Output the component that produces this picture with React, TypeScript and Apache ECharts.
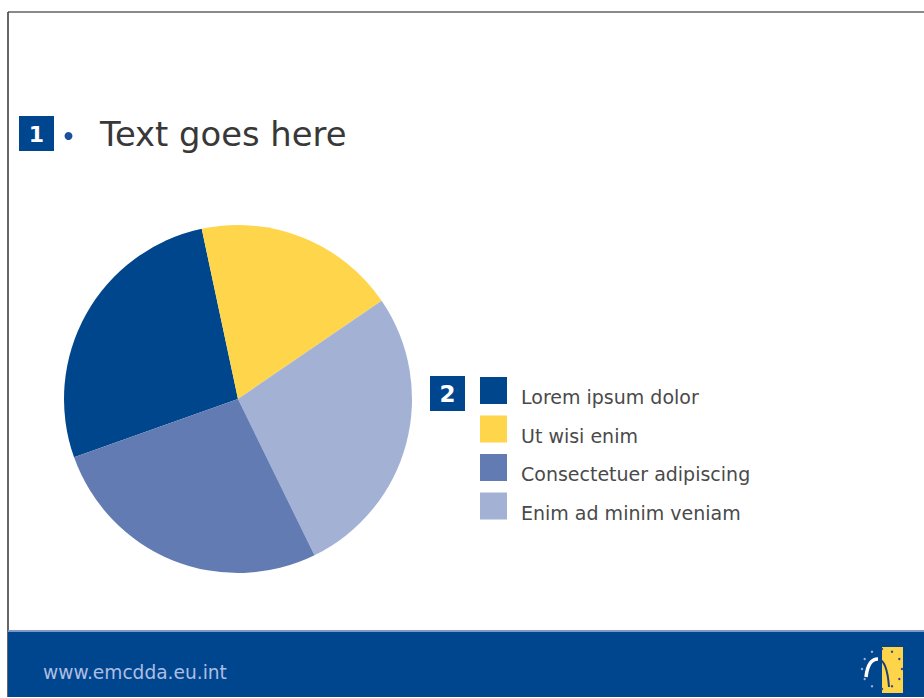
import React, { useEffect, useRef } from "react";
import * as echarts from "echarts";

// Pie slices in clockwise drawing order
const sliceNames = ["Lorem ipsum dolor", "Ut wisi enim", "Enim ad minim veniam", "Consectetuer adipiscing"];
const sliceValues = [27.1, 18.8, 27.3, 26.8];
const sliceColors = ["#00468C", "#FED54B", "#A3B1D4", "#637BB3"];
// Legend order as shown on the slide
const legendOrder = ["Lorem ipsum dolor", "Ut wisi enim", "Consectetuer adipiscing", "Enim ad minim veniam"];

const titleText = "Text goes here";
const footerText = "www.emcdda.eu.int";

const BLUE = "#00468E";

export default function App() {
  const ref = useRef<HTMLDivElement>(null);
  useEffect(() => {
    if (!ref.current) return;
    const chart = echarts.init(ref.current, undefined, { renderer: "svg" });

    const dots: any[] = [];
    for (let i = 0; i < 12; i++) {
      const a = (i * Math.PI) / 6;
      const x = 882 + 20 * Math.cos(a);
      const y = 669 + 20 * Math.sin(a);
      dots.push({
        type: "circle",
        shape: { cx: x, cy: y, r: 1.2 },
        style: { fill: x < 881 ? "#9fb1dc" : "#2a4a8a" },
        z: 12,
      });
    }

    chart.setOption({
      animation: false,
      backgroundColor: "#ffffff",
      legend: {
        data: legendOrder,
        orient: "vertical",
        left: 480,
        top: 377,
        padding: 0,
        itemWidth: 27,
        itemHeight: 27,
        itemGap: 9,
        icon: "rect",
        selectedMode: false,
        formatter: "{t|{name}}",
        textStyle: {
          fontSize: 19,
          color: "#4a4a4a",
          fontFamily: "DejaVu Sans",
          rich: {
            t: {
              fontSize: 19,
              color: "#4a4a4a",
              fontFamily: "DejaVu Sans",
              padding: [13, 0, 0, 9],
            },
          },
        },
      },
      series: [
        {
          type: "pie",
          center: [238, 399],
          radius: 174,
          startAngle: 199.6,
          clockwise: true,
          silent: true,
          label: { show: false },
          labelLine: { show: false },
          itemStyle: { borderWidth: 0 },
          emphasis: { disabled: true },
          data: sliceNames.map((n, i) => ({
            name: n,
            value: sliceValues[i],
            itemStyle: { color: sliceColors[i] },
          })),
        },
      ],
      graphic: [
        { type: "line", shape: { x1: 8, y1: 12, x2: 924, y2: 12 }, style: { stroke: "#8a8a8a", lineWidth: 2 } },
        { type: "line", shape: { x1: 8, y1: 12, x2: 8, y2: 697 }, style: { stroke: "#333333", lineWidth: 1.5 } },
        { type: "rect", shape: { x: 8, y: 630, width: 916, height: 67 }, style: { fill: BLUE }, z: 10 },
        { type: "rect", shape: { x: 8, y: 630, width: 916, height: 2 }, style: { fill: "#7f97c6" }, z: 11 },
        {
          type: "text",
          x: 43,
          y: 672,
          z: 11,
          style: {
            text: footerText,
            fontSize: 18.6,
            fontFamily: "DejaVu Sans",
            fill: "#aebde2",
            align: "left",
            verticalAlign: "middle",
          },
        },
        // logo
        { type: "rect", shape: { x: 882, y: 647, width: 21, height: 46 }, style: { fill: "#FDD44A" }, z: 11 },
        {
          type: "bezierCurve",
          shape: { x1: 866, y1: 677, cpx1: 868, cpy1: 659, x2: 878, y2: 659 },
          style: { stroke: "#ffffff", lineWidth: 3.5, fill: "none" },
          z: 12,
        },
        {
          type: "bezierCurve",
          shape: { x1: 878, y1: 659, cpx1: 887, cpy1: 660, x2: 889, y2: 687 },
          style: { stroke: "#1d3f7e", lineWidth: 2, fill: "none" },
          z: 12,
        },
        ...dots,
        // badge 1 + title
        { type: "rect", shape: { x: 19, y: 116, width: 35, height: 35 }, style: { fill: BLUE } },
        {
          type: "text",
          x: 36.5,
          y: 134,
          style: {
            text: "1",
            fontSize: 22,
            fontWeight: "bold",
            fontFamily: "DejaVu Sans",
            fill: "#ffffff",
            align: "center",
            verticalAlign: "middle",
          },
        },
        { type: "circle", shape: { cx: 68.5, cy: 136, r: 4 }, style: { fill: "#1c4f9c" } },
        {
          type: "text",
          x: 100,
          y: 134,
          style: {
            text: titleText,
            fontSize: 33.8,
            fontFamily: "DejaVu Sans",
            fill: "#383838",
            align: "left",
            verticalAlign: "middle",
          },
        },
        // badge 2
        { type: "rect", shape: { x: 430, y: 376, width: 35, height: 35 }, style: { fill: BLUE } },
        {
          type: "text",
          x: 447.5,
          y: 394,
          style: {
            text: "2",
            fontSize: 23,
            fontWeight: "bold",
            fontFamily: "DejaVu Sans",
            fill: "#ffffff",
            align: "center",
            verticalAlign: "middle",
          },
        },
      ],
    });
    return () => chart.dispose();
  }, []);

  return (
    <div
      ref={ref}
      style={{ position: "absolute", left: 0, top: 0, width: 924, height: 698 }}
    />
  );
}
